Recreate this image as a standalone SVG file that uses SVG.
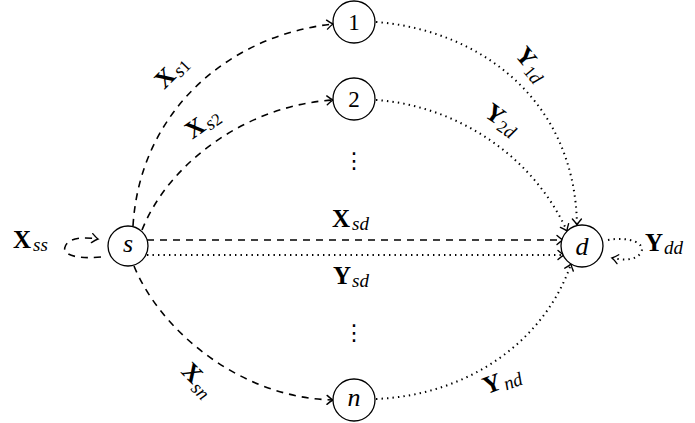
<svg xmlns="http://www.w3.org/2000/svg" width="695" height="423" viewBox="0 0 695 423">
<style>
  .node circle { fill: #fff; stroke: #000; stroke-width: 1.3; }
  .lbl { font-family: "Liberation Serif", serif; font-size: 23px; fill: #000; }
  .it { font-style: italic; font-size: 26px; }
  .B { font-family: "Liberation Serif", serif; font-weight: bold; font-size: 25px; fill: #000; }
  .sub { font-family: "Liberation Serif", serif; font-style: italic; font-weight: normal; font-size: 19px; }
  .subn { font-family: "Liberation Serif", serif; font-style: normal; font-weight: normal; font-size: 17px; }
  .dash { fill: none; stroke: #000; stroke-width: 1.6; stroke-dasharray: 7 6; }
  .dot { fill: none; stroke: #000; stroke-width: 2; stroke-dasharray: 1.4 4.1; }
  .vd { font-family: "DejaVu Sans", sans-serif; font-size: 22px; fill: #000; }
</style>
<defs>
  <marker id="ah" viewBox="-8 -6 10 12" refX="0" refY="0" markerWidth="10" markerHeight="12" markerUnits="userSpaceOnUse" orient="auto" overflow="visible">
    <path d="M -6 -4.5 Q -2 -1 0 0 Q -2 1 -6 4.5" fill="none" stroke="#000" stroke-width="1.4" stroke-linecap="round"/>
  </marker>
</defs>

<g id="connectors">
  <path class="dash" d="M 133 226 C 140 110, 230 35, 333 24" marker-end="url(#ah)"/>
  <path class="dash" d="M 142 230 C 170 160, 250 105, 333 100" marker-end="url(#ah)"/>
  <path class="dash" d="M 134 266 C 160 330, 240 398, 333 400" marker-end="url(#ah)"/>
  <path class="dash" d="M 147 240 L 563 240" marker-end="url(#ah)"/>
  <path class="dot" d="M 147 255 L 564 255" marker-end="url(#ah)"/>
  <path class="dot" d="M 376 22 C 480 30, 575 100, 577 225" marker-end="url(#ah)"/>
  <path class="dot" d="M 376 100 C 450 105, 530 150, 567 231" marker-end="url(#ah)"/>
  <path class="dot" d="M 376 399 C 470 395, 545 340, 571 264" marker-end="url(#ah)"/>
  <path class="dash" d="M 101 257 C 80 259, 62 256, 65 247 C 68 237, 85 237, 98 239" marker-end="url(#ah)"/>
  <path class="dot" d="M 608 240 C 630 236, 648 244, 640 254 C 634 261, 622 260, 612 258" marker-end="url(#ah)"/>
</g>

<g id="node-s" class="node"><circle cx="128" cy="246" r="20"/><text class="lbl it" x="128" y="252" text-anchor="middle">s</text></g>
<g id="node-d" class="node"><circle cx="582" cy="246" r="21"/><text class="lbl it" x="582" y="255" text-anchor="middle">d</text></g>
<g id="node-1" class="node"><circle cx="354" cy="22" r="21"/><text class="lbl" x="354" y="30" text-anchor="middle">1</text></g>
<g id="node-2" class="node"><circle cx="354" cy="99" r="21"/><text class="lbl" x="354" y="107" text-anchor="middle">2</text></g>
<g id="node-n" class="node"><circle cx="354" cy="400" r="21"/><text class="lbl it" x="354" y="406" text-anchor="middle">n</text></g>

<g id="vdots">
  <text class="vd" x="354" y="168" text-anchor="middle">⋮</text>
  <text class="vd" x="354" y="340" text-anchor="middle">⋮</text>
</g>

<g id="labels">
  <text class="B" x="13" y="248">X<tspan class="sub" dx="2" dy="3">ss</tspan></text>
  <text class="B" x="645" y="251">Y<tspan class="sub" dx="1" dy="3">dd</tspan></text>
  <text class="B" x="332" y="227">X<tspan class="sub" dx="2" dy="3">sd</tspan></text>
  <text class="B" x="333" y="284">Y<tspan class="sub" dx="1" dy="3">sd</tspan></text>
  <text class="B" transform="translate(165,78) rotate(-45)" x="-9" y="8">X<tspan class="subn" dx="2" dy="3"><tspan class="sub">s</tspan>1</tspan></text>
  <text class="B" transform="translate(195,128) rotate(-35)" x="-9" y="8">X<tspan class="subn" dx="2" dy="3"><tspan class="sub">s</tspan>2</tspan></text>
  <text class="B" transform="translate(526,57) rotate(50)" x="-9" y="8">Y<tspan class="subn" dy="4">1<tspan class="sub">d</tspan></tspan></text>
  <text class="B" transform="translate(495,114) rotate(35)" x="-9" y="8">Y<tspan class="subn" dy="4">2<tspan class="sub">d</tspan></tspan></text>
  <text class="B" transform="translate(192,373) rotate(45)" x="-9" y="8">X<tspan class="sub" dx="1" dy="5">sn</tspan></text>
  <text class="B" transform="translate(492,384) rotate(-20)" x="-9" y="8">Y<tspan class="sub" dx="2" dy="3">nd</tspan></text>
</g>
</svg>
